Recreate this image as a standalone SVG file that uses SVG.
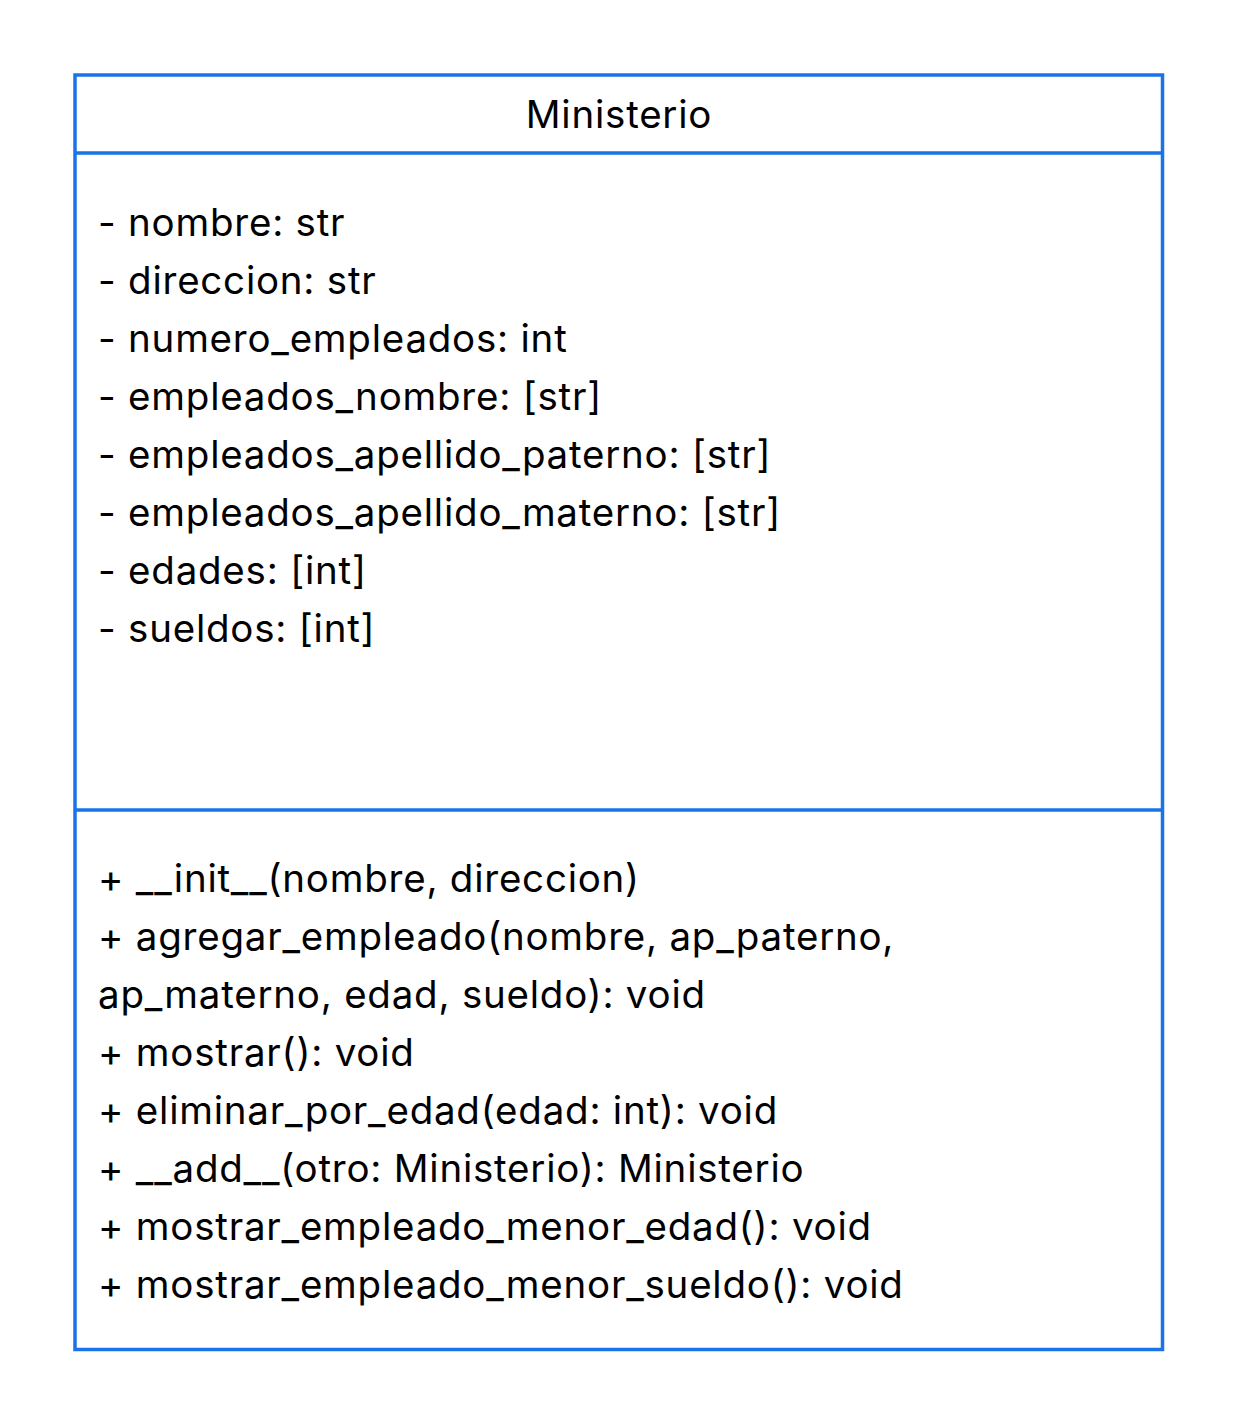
<svg xmlns="http://www.w3.org/2000/svg" width="1238" height="1425" viewBox="0 0 1238 1425">
  <style>
    .frame { fill: #ffffff; stroke: #1a73e8; stroke-width: 3.5; }
    .sep { stroke: #1a73e8; stroke-width: 3.5; }
    .t { font-family: Inter, "Liberation Sans", sans-serif; font-size: 38.5px; letter-spacing: 0.77px; fill: #000000; }
    .title { text-anchor: middle; }
  </style>
  <rect width="1238" height="1425" fill="#ffffff"/>
  <g id="ministerio">
    <rect class="frame" x="75" y="75" width="1087.5" height="1274.5"/>
    <line class="sep" x1="75" y1="153" x2="1162.5" y2="153"/>
    <line class="sep" x1="75" y1="810" x2="1162.5" y2="810"/>
    <text class="t title" x="619" y="128">Ministerio</text>
    <g id="atributos">
      <text class="t" x="98" y="236">- nombre: str</text>
      <text class="t" x="98" y="294">- direccion: str</text>
      <text class="t" x="98" y="352">- numero_empleados: int</text>
      <text class="t" x="98" y="410">- empleados_nombre: [str]</text>
      <text class="t" x="98" y="468">- empleados_apellido_paterno: [str]</text>
      <text class="t" x="98" y="526">- empleados_apellido_materno: [str]</text>
      <text class="t" x="98" y="584">- edades: [int]</text>
      <text class="t" x="98" y="642">- sueldos: [int]</text>
    </g>
    <g id="metodos">
      <text class="t" x="98" y="892">+ __init__(nombre, direccion)</text>
      <text class="t" x="98" y="950">+ agregar_empleado(nombre, ap_paterno,</text>
      <text class="t" x="98" y="1008">ap_materno, edad, sueldo): void</text>
      <text class="t" x="98" y="1066">+ mostrar(): void</text>
      <text class="t" x="98" y="1124">+ eliminar_por_edad(edad: int): void</text>
      <text class="t" x="98" y="1182">+ __add__(otro: Ministerio): Ministerio</text>
      <text class="t" x="98" y="1240">+ mostrar_empleado_menor_edad(): void</text>
      <text class="t" x="98" y="1298">+ mostrar_empleado_menor_sueldo(): void</text>
    </g>
  </g>
</svg>
